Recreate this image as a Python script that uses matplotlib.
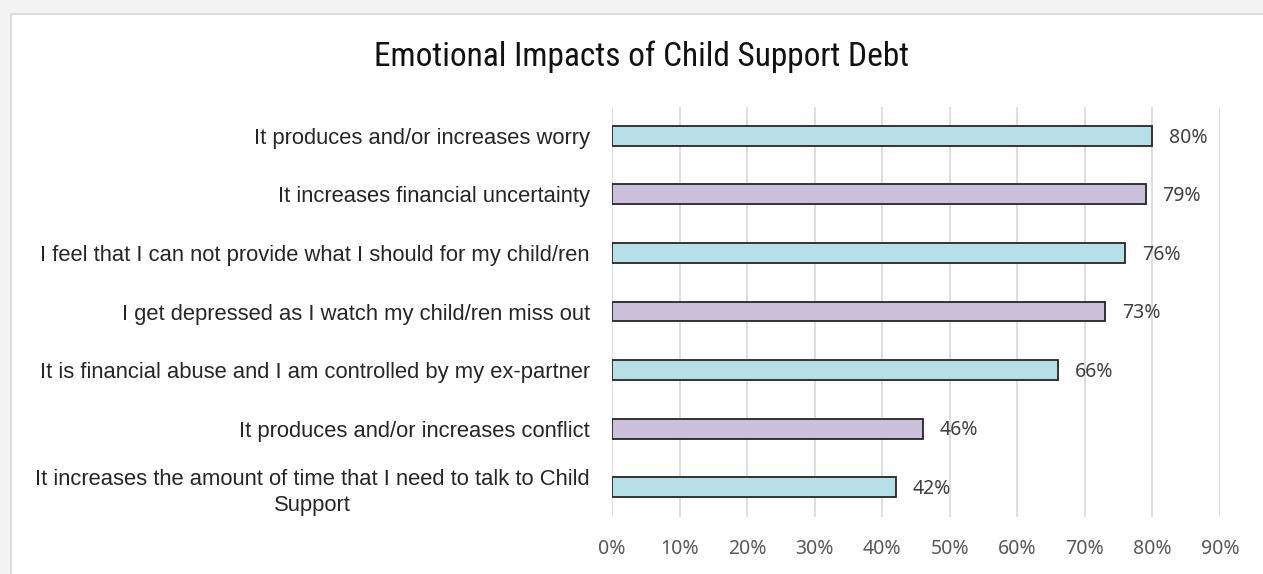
import matplotlib.pyplot as plt
from matplotlib.patches import Rectangle
import numpy as np

categories = [
    "It produces and/or increases worry",
    "It increases financial uncertainty",
    "I feel that I can not provide what I should for my child/ren",
    "I get depressed as I watch my child/ren miss out",
    "It is financial abuse and I am controlled by my ex-partner",
    "It produces and/or increases conflict",
    "It increases the amount of time that I need to talk to Child\nSupport",
]
values = [0.80, 0.79, 0.76, 0.73, 0.66, 0.46, 0.42]
bar_colors = ["#b7dfe8", "#cbc0dc"]
x_ticks = np.arange(0, 1.0, 0.1)

label_font = ["Liberation Sans", "DejaVu Sans"]
title_font = ["Roboto Condensed", "Liberation Sans", "DejaVu Sans"]
tick_font = ["Noto Sans", "DejaVu Sans"]

fig = plt.figure(figsize=(12.63, 5.74), dpi=100)
fig.patch.set_facecolor("#f4f4f4")
# white chart panel with a thin gray frame
fig.patches.append(Rectangle((10.5 / 1263, -0.01), 1, 1.01 - 13.5 / 574, transform=fig.transFigure,
                             facecolor="white", edgecolor="#dcdcdc", linewidth=1.5, zorder=0))

ax = fig.add_axes([612 / 1263, 1 - 516.5 / 574, (1220 - 612) / 1263, (516.5 - 106.5) / 574])
ax.set_zorder(2)
ax.set_facecolor("none")
y = np.arange(len(categories))
colors = [bar_colors[i % 2] for i in range(len(categories))]
ax.barh(y, values, height=0.34, color=colors, edgecolor="#262626", linewidth=1.3, zorder=3)
for yi, v in zip(y, values):
    ax.text(v + 0.025, yi + 0.03, "{:.0%}".format(v), va="center", ha="left", fontsize=14,
            color="#404040", family=tick_font)

ax.set_xlim(0, 0.9)
ax.set_ylim(len(categories) - 0.5, -0.5)
ax.set_xticks(x_ticks)
ax.set_xticklabels(["{:.0%}".format(t) for t in x_ticks], fontsize=14, color="#595959", family=tick_font)
ax.set_yticks(y)
ax.set_yticklabels(categories, fontsize=15.8, color="#262626", family=label_font, ha="right",
                   multialignment="center", linespacing=1.3)
ax.tick_params(axis="y", length=0, pad=16)
ax.tick_params(axis="x", length=0, pad=16)
ax.grid(axis="x", color="#d9d9d9", linewidth=1.2, zorder=0)
for s in ax.spines.values():
    s.set_visible(False)

fig.text(0.508, 1 - 57 / 574, "Emotional Impacts of Child Support Debt", ha="center", va="center",
         fontsize=24, color="#111111", family=title_font)

fig.savefig("out.png", dpi=100, facecolor=fig.get_facecolor())
